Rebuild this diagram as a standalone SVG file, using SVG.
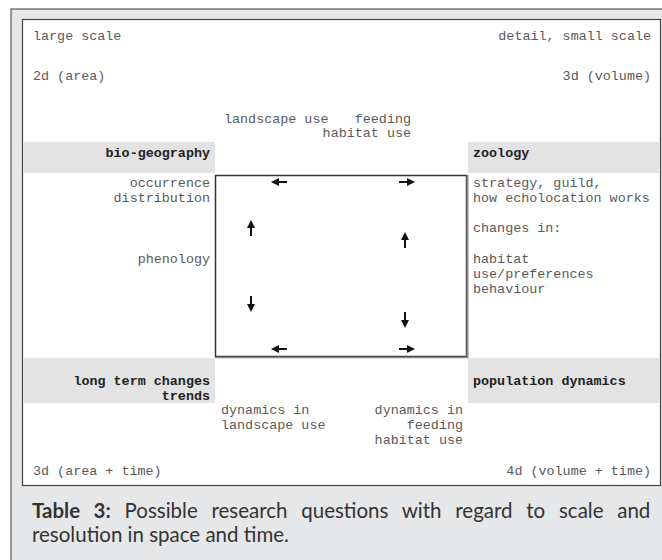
<svg xmlns="http://www.w3.org/2000/svg" width="662" height="560" viewBox="0 0 662 560">
<defs>
<style>
.t{font-family:"Liberation Mono","Courier New",monospace;font-size:13.4px;fill:#5a5a5a}
.b{font-family:"Liberation Mono","Courier New",monospace;font-size:13.4px;fill:#222;font-weight:bold}
.r{text-anchor:end}
.band{fill:#e3e3e3}
.cap{font-family:Lato,"Open Sans",sans-serif;font-size:20.5px;fill:#333}
.arr{stroke:#111;stroke-width:2;fill:none}
</style>
<marker id="ah" viewBox="0 0 10 10" refX="5" refY="5" markerWidth="4" markerHeight="4" orient="auto">
<path d="M0,0 L10,5 L0,10 z" fill="#111"/>
</marker>
</defs>
<rect x="11" y="9" width="660" height="560" fill="#e6e7e9" stroke="#555" stroke-width="1.2"/>
<rect x="22.5" y="19.5" width="638" height="466" fill="#fff" stroke="#444" stroke-width="1.2"/>

<g id="bands">
<rect class="band" x="23" y="142" width="192" height="31"/>
<rect class="band" x="468" y="142" width="191" height="31"/>
<rect class="band" x="23" y="358" width="192" height="45"/>
<rect class="band" x="468" y="358" width="191" height="45"/>
</g>

<g id="center-box">
<rect x="215.5" y="175.5" width="251" height="181" fill="#fff" stroke="#333" stroke-width="1.5"/>
<line x1="467.5" y1="175" x2="467.5" y2="358" stroke="#888" stroke-width="2"/>
<line x1="215" y1="357.5" x2="468" y2="357.5" stroke="#888" stroke-width="1.5"/>
</g>

<g id="corner-labels">
<text class="t" x="33" y="40">large scale</text>
<text class="t r" x="651" y="40">detail, small scale</text>
<text class="t" x="33" y="80">2d (area)</text>
<text class="t r" x="651" y="80">3d (volume)</text>
<text class="t" x="33" y="475">3d (area + time)</text>
<text class="t r" x="651" y="475">4d (volume + time)</text>
</g>

<g id="top-labels">
<text class="t" x="224" y="123">landscape use</text>
<text class="t r" x="411" y="123">feeding</text>
<text class="t r" x="411" y="137">habitat use</text>
</g>

<g id="bio-geography">
<text class="b r" x="210" y="157">bio-geography</text>
<text class="t r" x="210" y="187">occurrence</text>
<text class="t r" x="210" y="202">distribution</text>
<text class="t r" x="210" y="263">phenology</text>
</g>

<g id="zoology">
<text class="b" x="473" y="157">zoology</text>
<text class="t" x="473" y="187">strategy, guild,</text>
<text class="t" x="473" y="202">how echolocation works</text>
<text class="t" x="473" y="232">changes in:</text>
<text class="t" x="473" y="263">habitat</text>
<text class="t" x="473" y="278">use/preferences</text>
<text class="t" x="473" y="293">behaviour</text>
</g>

<g id="long-term">
<text class="b r" x="210" y="385">long term changes</text>
<text class="b r" x="210" y="400">trends</text>
</g>

<g id="population-dynamics">
<text class="b" x="473" y="385">population dynamics</text>
</g>

<g id="bottom-labels">
<text class="t" x="221" y="414">dynamics in</text>
<text class="t" x="221" y="429">landscape use</text>
<text class="t r" x="463" y="414">dynamics in</text>
<text class="t r" x="463" y="429">feeding</text>
<text class="t r" x="463" y="444">habitat use</text>
</g>

<g id="connectors">
<line class="arr" x1="287" y1="182" x2="275" y2="182" marker-end="url(#ah)"/>
<line class="arr" x1="399" y1="182" x2="411" y2="182" marker-end="url(#ah)"/>
<line class="arr" x1="251" y1="236" x2="251" y2="224" marker-end="url(#ah)"/>
<line class="arr" x1="405" y1="248" x2="405" y2="236" marker-end="url(#ah)"/>
<line class="arr" x1="251" y1="296" x2="251" y2="308" marker-end="url(#ah)"/>
<line class="arr" x1="405" y1="312" x2="405" y2="324" marker-end="url(#ah)"/>
<line class="arr" x1="287" y1="349" x2="275" y2="349" marker-end="url(#ah)"/>
<line class="arr" x1="399" y1="349" x2="411" y2="349" marker-end="url(#ah)"/>
</g>

<g id="caption">
<text class="cap" x="32" y="518" word-spacing="8.5"><tspan font-weight="bold">Table 3:</tspan> Possible research questions with regard to scale and</text>
<text class="cap" x="32" y="542">resolution in space and time.</text>
</g>
</svg>
